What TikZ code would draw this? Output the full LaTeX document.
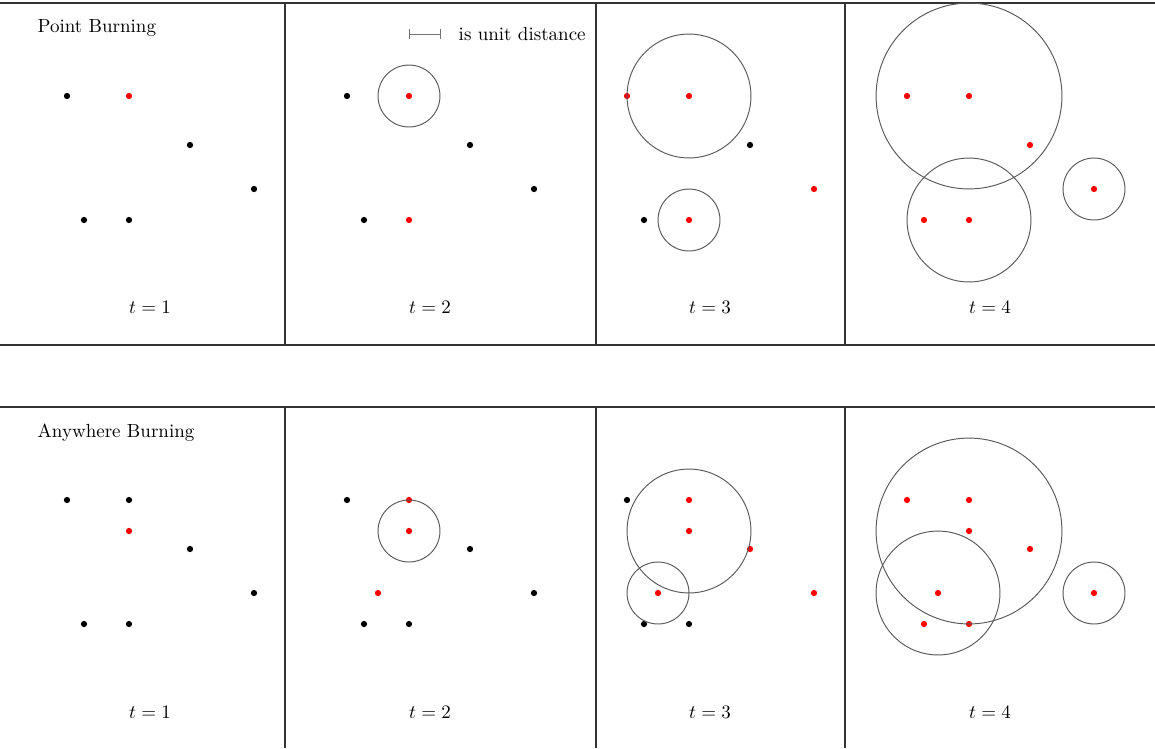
\documentclass[tikz,border=0pt]{standalone}
\usetikzlibrary{arrows.meta,positioning}

\begin{document}
\begin{tikzpicture}[
      x=0.0185cm, y=-0.0185cm,
      frame/.style={line width=0.75pt, draw=black!80},
      blk/.style={circle, fill=black, inner sep=0pt, minimum size=3.3pt},
      hot/.style={circle, fill=red, inner sep=0pt, minimum size=3.3pt},
      ball/.style={draw=black!65, line width=0.5pt},
      unitbar/.style={{Bar[width=5pt]}-{Bar[width=5pt]}, draw=black!55, line width=0.5pt},
    ]
    \def\ru{16.3pt}
    \useasboundingbox (0,0) rectangle (1155,748);

    % frames
    \coordinate (tl) at (0,3);    \coordinate (tr) at (1155,3);
    \coordinate (ml) at (0,345);  \coordinate (mr) at (1155,345);
    \coordinate (bl) at (0,407);  \coordinate (br) at (1155,407);
    \draw[frame] (tl) -- (tr);
    \draw[frame] (ml) -- (mr);
    \draw[frame] (bl) -- (br);
    \foreach \x in {285,596,845} {
      \draw[frame] (\x,3) -- (\x,345);
      \draw[frame] (\x,407) -- (\x,748);
    }

    % titles and unit
    \node[anchor=west] (title1) at (31,28) {Point Burning};
    \node[anchor=west] (title2) at (31,433) {Anywhere Burning};
    \coordinate (u0) at (409,34);
    \coordinate (u1) at (441,34);
    \draw[unitbar] (u0) -- (u1);
    \node[anchor=west] (unit) at (452,34) {is unit distance};

    % time labels
    \foreach \k in {1,...,4} {
      \node (ta\k) at ({150+280*(\k-1)},307) {$t=\k$};
      \node (tb\k) at ({150+280*(\k-1)},712) {$t=\k$};
    }

    % point burning
    \node[blk] (a1) at (67,96) {};
    \node[hot] (b1) at (129,96) {};
    \node[blk] (c1) at (190,145) {};
    \node[blk] (d1) at (254,189) {};
    \node[blk] (e1) at (84,220) {};
    \node[blk] (f1) at (129,220) {};

    \begin{scope}[shift={(280,0)}]
      \node[blk] (a2) at (67,96) {};
      \node[hot] (b2) at (129,96) {};
      \node[blk] (c2) at (190,145) {};
      \node[blk] (d2) at (254,189) {};
      \node[blk] (e2) at (84,220) {};
      \node[hot] (f2) at (129,220) {};
      \draw[ball] (b2) circle[radius=\ru];
    \end{scope}

    \begin{scope}[shift={(560,0)}]
      \node[hot] (a3) at (67,96) {};
      \node[hot] (b3) at (129,96) {};
      \node[blk] (c3) at (190,145) {};
      \node[hot] (d3) at (254,189) {};
      \node[blk] (e3) at (84,220) {};
      \node[hot] (f3) at (129,220) {};
      \draw[ball] (b3) circle[radius=2*\ru];
      \draw[ball] (f3) circle[radius=\ru];
    \end{scope}

    \begin{scope}[shift={(840,0)}]
      \node[hot] (a4) at (67,96) {};
      \node[hot] (b4) at (129,96) {};
      \node[hot] (c4) at (190,145) {};
      \node[hot] (d4) at (254,189) {};
      \node[hot] (e4) at (84,220) {};
      \node[hot] (f4) at (129,220) {};
      \draw[ball] (b4) circle[radius=3*\ru];
      \draw[ball] (f4) circle[radius=2*\ru];
      \draw[ball] (d4) circle[radius=\ru];
    \end{scope}

    % anywhere burning
    \begin{scope}[shift={(0,404)}]
      \node[blk] (ga1) at (67,96) {};
      \node[blk] (gb1) at (129,96) {};
      \node[hot] (gg1) at (129,127) {};
      \node[blk] (gc1) at (190,145) {};
      \node[blk] (gd1) at (254,189) {};
      \node[blk] (ge1) at (84,220) {};
      \node[blk] (gf1) at (129,220) {};
    \end{scope}

    \begin{scope}[shift={(280,404)}]
      \node[blk] (ga2) at (67,96) {};
      \node[hot] (gb2) at (129,96) {};
      \node[hot] (gg2) at (129,127) {};
      \node[blk] (gc2) at (190,145) {};
      \node[blk] (gd2) at (254,189) {};
      \node[hot] (gh2) at (98,189) {};
      \node[blk] (ge2) at (84,220) {};
      \node[blk] (gf2) at (129,220) {};
      \draw[ball] (gg2) circle[radius=\ru];
    \end{scope}

    \begin{scope}[shift={(560,404)}]
      \node[blk] (ga3) at (67,96) {};
      \node[hot] (gb3) at (129,96) {};
      \node[hot] (gg3) at (129,127) {};
      \node[hot] (gc3) at (190,145) {};
      \node[hot] (gd3) at (254,189) {};
      \node[hot] (gh3) at (98,189) {};
      \node[blk] (ge3) at (84,220) {};
      \node[blk] (gf3) at (129,220) {};
      \draw[ball] (gg3) circle[radius=2*\ru];
      \draw[ball] (gh3) circle[radius=\ru];
    \end{scope}

    \begin{scope}[shift={(840,404)}]
      \node[hot] (ga4) at (67,96) {};
      \node[hot] (gb4) at (129,96) {};
      \node[hot] (gg4) at (129,127) {};
      \node[hot] (gc4) at (190,145) {};
      \node[hot] (gd4) at (254,189) {};
      \node[hot] (gh4) at (98,189) {};
      \node[hot] (ge4) at (84,220) {};
      \node[hot] (gf4) at (129,220) {};
      \draw[ball] (gg4) circle[radius=3*\ru];
      \draw[ball] (gh4) circle[radius=2*\ru];
      \draw[ball] (gd4) circle[radius=\ru];
    \end{scope}
  \end{tikzpicture}
\end{document}
